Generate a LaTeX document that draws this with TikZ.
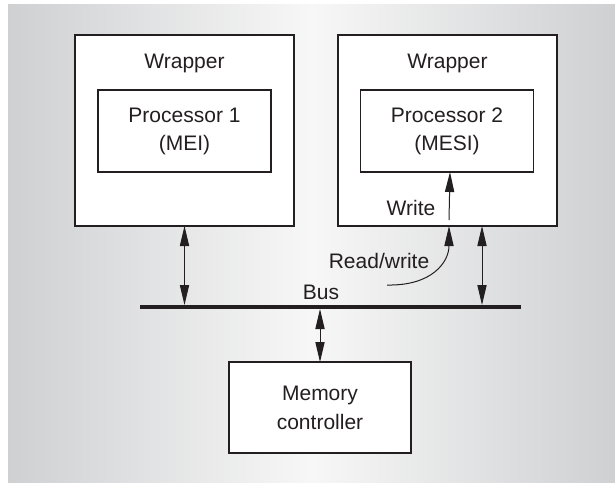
\documentclass[tikz,border=0pt]{standalone}
\usepackage{fontspec}
\setmainfont{Liberation Sans}
\usetikzlibrary{arrows.meta}
\definecolor{bgside}{RGB}{207,208,210}
\definecolor{bgmid}{RGB}{247,247,247}
\definecolor{ink}{RGB}{35,31,32}
\begin{document}
\begin{tikzpicture}[x=0.5pt,y=-0.5pt,
	font=\fontsize{10.5}{14}\selectfont,text=ink,
	box/.style={draw=ink,line width=0.7pt,fill=white,inner sep=0pt,outer sep=0pt,align=center},
	wrapbox/.style={box,minimum width=109.5pt,minimum height=95.5pt},
	procbox/.style={box,minimum width=86.5pt,minimum height=41pt},
	memobox/.style={box,minimum width=91pt,minimum height=45.5pt,font=\fontsize{10.5}{14.5}\selectfont},
	tip/.style={-{Triangle[length=10pt,width=4.6pt]},line width=0.5pt,draw=ink},
	twotip/.style={{Triangle[length=10pt,width=4.6pt]}-{Triangle[length=10pt,width=4.6pt]},line width=0.5pt,draw=ink}]
	\useasboundingbox (0,0) rectangle (615,482);
	\fill[left color=bgside,right color=bgside,middle color=bgmid] (8,4) rectangle (615,482);
	\node[wrapbox] (wrap1) at (184.5,130.5) {};
	\node[wrapbox] (wrap2) at (447.5,130.5) {};
	\node (wtxt1) at (184.5,63) {Wrapper};
	\node (wtxt2) at (447.5,63) {Wrapper};
	\node[procbox] (proc1) at (184.5,131) {Processor 1\\(MEI)};
	\node[procbox] (proc2) at (447,131) {Processor 2\\(MESI)};
	\node[memobox] (mem) at (320,407.5) {Memory\\controller};
	\coordinate (busL) at (140,307);
	\coordinate (busR) at (521,307);
	\draw[ink,line width=2pt] (busL) -- (busR);
	\node (buslbl) at (321,292) {Bus};
	\draw[twotip,shorten >=1pt] (wrap1.south) -- (wrap1.south |- busL);
	\draw[twotip,shorten >=1pt] (482,0 |- wrap2.south) -- (482,0 |- busL);
	\draw[twotip,shorten >=1pt] (mem.north) -- (mem.north |- busL);
	\coordinate (rwstart) at (387,285);
	\coordinate (wrstart) at (449,220);
	\draw[tip] (rwstart) .. controls (432,286) and (449,262) .. (449,0 |- wrap2.south);
	\draw[tip] (wrstart) -- (450,0 |- proc2.south);
	\node (rwlbl) at (379,261) {Read/write};
	\node (wrlbl) at (411,208) {Write};
\end{tikzpicture}
\end{document}
